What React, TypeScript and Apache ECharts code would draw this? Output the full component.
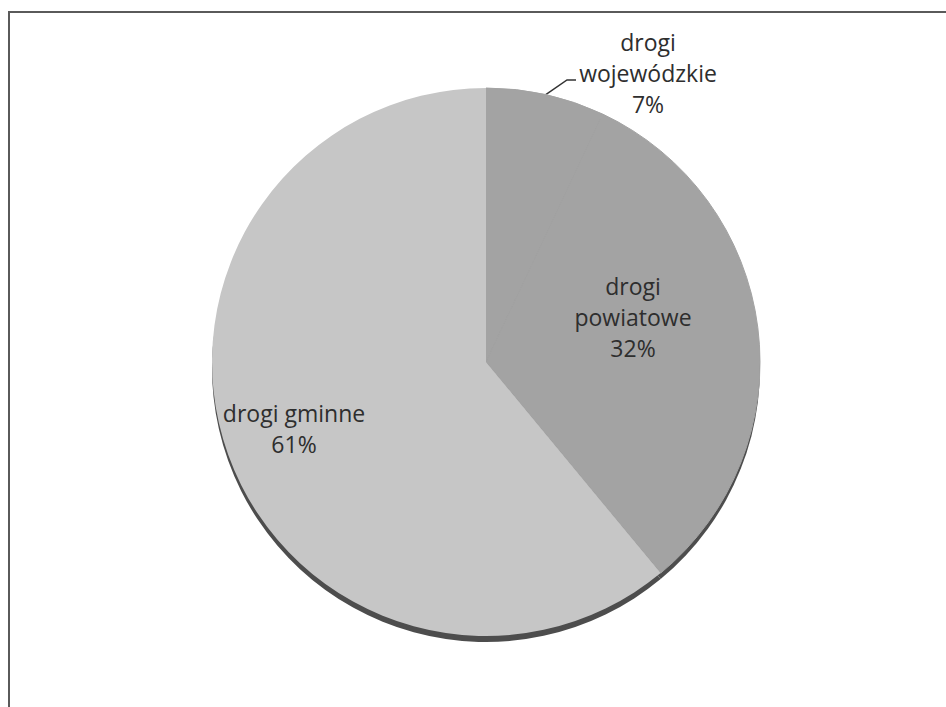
import React, { useEffect, useRef } from "react";
import * as echarts from "echarts";

const categories = ["drogi\nwojewódzkie", "drogi\npowiatowe", "drogi gminne"];
const values = [7, 32, 61];
const colors = ["#a3a3a3", "#a3a3a3", "#c6c6c6"];

export default function App() {
  const ref = useRef<HTMLDivElement>(null);
  useEffect(() => {
    document.body.style.margin = "0";
    const chart = echarts.init(ref.current!, null, { renderer: "svg" });
    const center = [486, 362];
    const radius = 274;
    const labelCenters: Record<number, [number, number]> = {
      0: [648, 73],
      1: [633, 317],
      2: [294, 428],
    };
    chart.setOption({
      animation: false,
      backgroundColor: "#ffffff",
      graphic: [
        {
          type: "rect",
          shape: { x: 9, y: 12, width: 980, height: 760 },
          style: { fill: "none", stroke: "#5a5a5a", lineWidth: 2 },
          silent: true,
        },
      ],
      series: [
        {
          type: "pie",
          silent: true,
          z: 1,
          center: [center[0], center[1] + 6],
          radius: radius,
          startAngle: 90,
          clockwise: true,
          label: { show: false },
          labelLine: { show: false },
          itemStyle: { color: "#4d4d4d", borderWidth: 0 },
          data: categories.map((c, i) => ({ name: c + " ", value: values[i] })),
        },
        {
          type: "pie",
          z: 2,
          center: center,
          radius: radius,
          startAngle: 90,
          clockwise: true,
          label: {
            show: true,
            formatter: "{b}\n{d}%",
            fontFamily: "Open Sans",
            fontSize: 23,
            lineHeight: 31,
            color: "#2e2e2e",
            align: "center",
          },
          labelLine: {
            show: true,
            lineStyle: { color: "#333333", width: 1.5 },
          },
          labelLayout: (params: any) => {
            const c = labelCenters[params.dataIndex];
            const out: any = {
              x: c[0],
              y: c[1],
              align: "center",
              verticalAlign: "middle",
            };
            if (params.dataIndex === 0 && params.labelLinePoints) {
              const s = params.labelLinePoints[0];
              out.labelLinePoints = [s, [567, 80], [576, 80]];
            }
            return out;
          },
          data: categories.map((c, i) => ({
            name: c,
            value: values[i],
            itemStyle: { color: colors[i], borderColor: colors[i], borderWidth: i < 2 ? 1 : 0 },
            label: { position: i === 0 ? "outside" : "inside" },
            labelLine: { show: i === 0 },
          })),
        },
      ],
    });
    return () => chart.dispose();
  }, []);
  return <div ref={ref} style={{ width: 946, height: 707 }} />;
}
